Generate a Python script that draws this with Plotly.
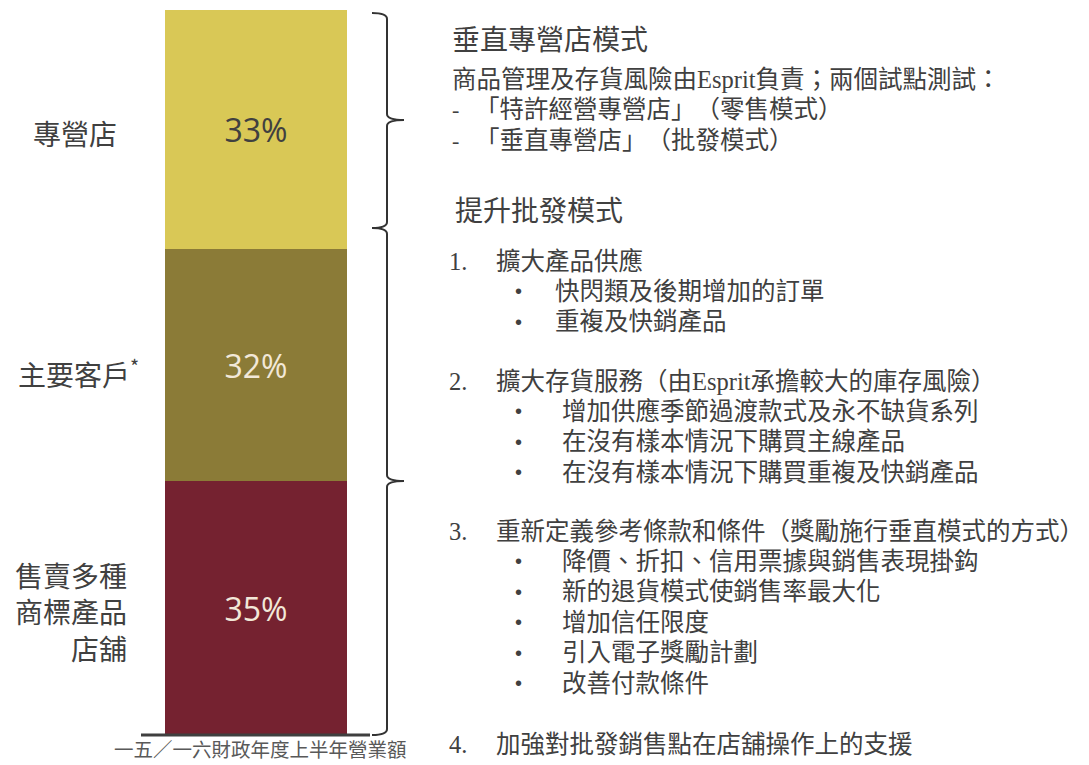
import plotly.graph_objects as go

# ---------------- data ----------------
segments = ["售賣多種商標產品店舖", "主要客戶", "專營店"]
shares = [35, 32, 33]
seg_colors = ["#752230", "#8B7B37", "#D9C856"]
seg_text_colors = ["#F2E8D8", "#F2E8D8", "#404040"]
left_labels = ["售賣多種<br>商標產品<br>店舖", "主要客戶<sup>*</sup>", "專營店"]
x_caption = "一五／一六財政年度上半年營業額"

heading1 = "垂直專營店模式"
intro1 = "商品管理及存貨風險由Esprit負責；兩個試點測試："
dash_items = ["「特許經營專營店」（零售模式）", "「垂直專營店」（批發模式）"]
heading2 = "提升批發模式"
numbered = ["擴大產品供應",
            "擴大存貨服務（由Esprit承擔較大的庫存風險）",
            "重新定義參考條款和條件（獎勵施行垂直模式的方式）",
            "加強對批發銷售點在店舖操作上的支援"]
sub_items = [["快閃類及後期增加的訂單", "重複及快銷產品"],
             ["增加供應季節過渡款式及永不缺貨系列", "在沒有樣本情況下購買主線產品",
              "在沒有樣本情況下購買重複及快銷產品"],
             ["降價、折扣、信用票據與銷售表現掛鈎", "新的退貨模式使銷售率最大化",
              "增加信任限度", "引入電子獎勵計劃", "改善付款條件"],
             []]

# ---------------- layout helpers ----------------
W, H = 1089, 765
def px(x):
    return x / W
def py(y):
    return 1 - y / H

TXT = "#404040"
SANS = "Noto Sans CJK TC, Noto Sans, sans-serif"
MIX = "Liberation Serif, Noto Sans CJK TC, serif"
NOTRIM = '<span style="text-spacing-trim:space-all">{}</span>'

fig = go.Figure()
for name, v, c, tc in zip(segments, shares, seg_colors, seg_text_colors):
    fig.add_trace(go.Bar(
        x=[0], y=[v], name=name, width=1, marker=dict(color=c, line=dict(width=0)),
        text=[f"{v}%"], textposition="inside", insidetextanchor="middle",
        textfont=dict(family="Open Sans, sans-serif", size=32, color=tc),
        hoverinfo="skip", showlegend=False,
    ))

# axis ranges so the bar sits at pixels x 165-347, y 10-735
xpx_per_unit = 182.0
xc = 256.0
ypx_per_unit = 725.0 / 100
y0px = 735.0
fig.update_layout(
    width=W, height=H, margin=dict(l=0, r=0, t=0, b=0),
    paper_bgcolor="white", plot_bgcolor="white", barmode="stack",
    xaxis=dict(range=[-xc / xpx_per_unit, (W - xc) / xpx_per_unit], visible=False, fixedrange=True),
    yaxis=dict(range=[-(H - y0px) / ypx_per_unit, y0px / ypx_per_unit], visible=False, fixedrange=True),
)

# baseline
fig.add_shape(type="line", xref="paper", yref="y", x0=px(141), x1=px(370), y0=0, y1=0,
              line=dict(color="#3F3F3F", width=3))

# braces
def brace(top, tip, bot, x0=372, xv=387, xt=404, r=6):
    pts = [
        f"M {px(x0)},{py(top)}",
        f"Q {px(xv)},{py(top)} {px(xv)},{py(top + r)}",
        f"L {px(xv)},{py(tip - r)}",
        f"Q {px(xv)},{py(tip)} {px(xt)},{py(tip)}",
        f"Q {px(xv)},{py(tip)} {px(xv)},{py(tip + r)}",
        f"L {px(xv)},{py(bot - r)}",
        f"Q {px(xv)},{py(bot)} {px(x0)},{py(bot)}",
    ]
    return " ".join(pts)

for (t, m, b) in [(13, 120, 228), (228, 481, 735)]:
    fig.add_shape(type="path", xref="paper", yref="paper", path=brace(t, m, b),
                  line=dict(color="#333333", width=2))

def note(text, x, y, size, family=MIX, color=TXT, anchor="left", yanchor="middle"):
    fig.add_annotation(text=text, x=px(x), y=py(y), xref="paper", yref="paper",
                       xanchor=anchor, yanchor=yanchor, showarrow=False,
                       font=dict(family=family, size=size, color=color), align=anchor)

# left labels
note(left_labels[2], 119, 133, 28, SANS, anchor="right")
note(left_labels[1], 141, 372, 28, SANS, anchor="right")
note(left_labels[0], 129, 611, 28, SANS, anchor="right")

# caption under bar
note(x_caption, 260, 765, 19.5, SANS, color="#595959", anchor="center", yanchor="bottom")

# right-hand text
BODY = 24.5
note(heading1, 450, 40, 28)
note(intro1, 450, 80, BODY)
for i, t in enumerate(dash_items):
    yy = 110 + 30 * i
    note("-", 450, yy, 22)
    note(NOTRIM.format(t), 473, yy, BODY)
note(heading2, 453, 211, 28)

num_y = [261, 381, 531, 744]
sub_x = [553, 560, 560, 560]
for i, (t, yy) in enumerate(zip(numbered, num_y)):
    note(f"{i + 1}.", 447, yy, BODY)
    note(t, 494, yy, BODY)
    for j, s in enumerate(sub_items[i]):
        sy = yy + 30.4 * (j + 1)
        note("•", 513, sy, 20, "Liberation Sans, sans-serif")
        note(s, sub_x[i], sy, BODY)

fig.write_html("out.html")
